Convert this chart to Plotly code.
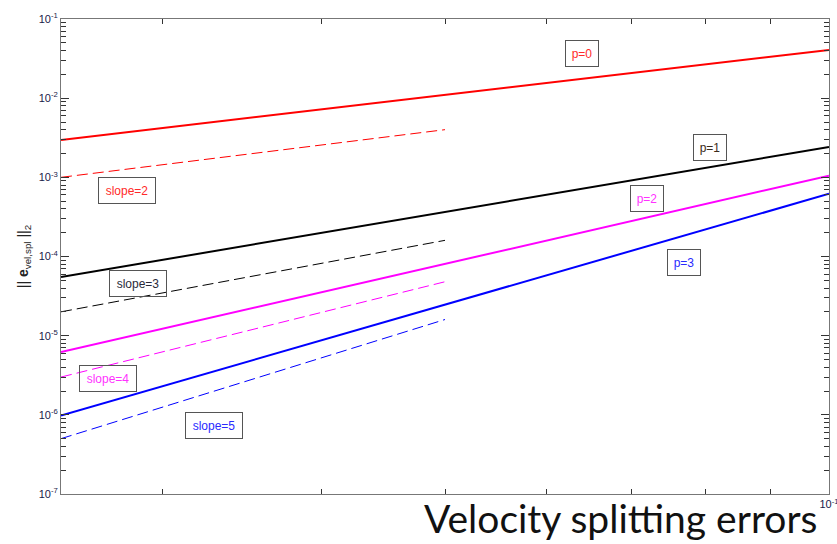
import plotly.graph_objects as go

# mesh size h and velocity splitting error for each polynomial order p
h = [0.025, 0.05, 0.1]
err_p0 = [2.97e-3, 1.10e-2, 4.07e-2]
err_p1 = [5.5e-5, 3.65e-4, 2.42e-3]
err_p2 = [6.2e-6, 8.07e-5, 1.05e-3]
err_p3 = [9.8e-7, 2.47e-5, 6.2e-4]

# reference slopes (dashed)
h_ref = [0.025, 0.05]
ref_s2 = [1.0e-3, 4.0e-3]
ref_s3 = [2.0e-5, 1.6e-4]
ref_s4 = [3.0e-6, 4.8e-5]
ref_s5 = [5.0e-7, 1.6e-5]

# y-axis decades and their labels
y_decades = [1e-7, 1e-6, 1e-5, 1e-4, 1e-3, 1e-2, 1e-1]
y_decade_text = ["10<sup>-7</sup>", "10<sup>-6</sup>", "10<sup>-5</sup>", "10<sup>-4</sup>",
                 "10<sup>-3</sup>", "10<sup>-2</sup>", "10<sup>-1</sup>"]

colors = ["#ff0000", "#000000", "#ff00ff", "#0000ff"]
series = [err_p0, err_p1, err_p2, err_p3]
refs = [ref_s2, ref_s3, ref_s4, ref_s5]

W, H = 837, 544
L, R, T, B = 61, 8, 19, 50
pw, ph = W - L - R, H - T - B

fig = go.Figure()
for c, y in zip(colors, series):
    fig.add_trace(go.Scatter(x=h, y=y, mode="lines",
                             line=dict(color=c, width=2), showlegend=False))
for c, y in zip(colors, refs):
    fig.add_trace(go.Scatter(x=h_ref, y=y, mode="lines",
                             line=dict(color=c, width=1, dash="11px,5px"),
                             showlegend=False))


def px2paper(px, py):
    return (px - L) / pw, (H - B - py) / ph


labels = [
    ("p=0", 582, 53, "#ff2a2a", 24),
    ("p=1", 710, 147, "#3a2a1a", 24),
    ("p=2", 647, 198, "#ff33ff", 24),
    ("p=3", 684, 262, "#2a2aff", 24),
    ("slope=2", 127, 190, "#ff2a2a", 48),
    ("slope=3", 138, 283, "#2a2a3a", 48),
    ("slope=4", 108, 378, "#ff33ff", 48),
    ("slope=5", 214, 425, "#2a2aff", 48),
]
for text, px, py, col, w in labels:
    xp, yp = px2paper(px, py)
    fig.add_annotation(x=xp, y=yp, xref="paper", yref="paper", text=text,
                       xanchor="center", yanchor="middle",
                       showarrow=False, width=w, height=17,
                       font=dict(family="Liberation Sans", size=12, color=col),
                       bgcolor="rgba(255,255,255,0)", bordercolor="#555555",
                       borderwidth=1, borderpad=4)

# slide caption below the axes
fig.add_annotation(x=(819 - L) / pw, y=(H - B - 543) / ph, xref="paper", yref="paper",
                   xanchor="right", yanchor="bottom", text="Velocity splitting errors",
                   showarrow=False, font=dict(family="Lato", size=39, color="#111111"))

yminor = [m * 10 ** e for e in range(-7, -1) for m in range(2, 10)]
fig.update_layout(
    width=W, height=H, margin=dict(l=L, r=R, t=T, b=B, autoexpand=False),
    paper_bgcolor="white", plot_bgcolor="white",
    font=dict(family="Liberation Sans", size=11, color="#1a1a4a"),
    xaxis=dict(type="log", range=[-1.60206, -1], showgrid=False, zeroline=False,
               automargin=False,
               showline=True, linecolor="#777777", linewidth=1, mirror="ticks",
               ticks="inside", ticklen=5, tickcolor="#333333",
               tickvals=[0.1], ticktext=["10<sup>-1</sup>"], ticklabeloverflow="allow",
               tickfont=dict(size=11, color="#1a1a4a"),
               minor=dict(tickvals=[0.03, 0.04, 0.05, 0.06, 0.07, 0.08, 0.09],
                          ticks="inside", ticklen=5, tickcolor="#333333", showgrid=False)),
    yaxis=dict(type="log", range=[-7, -1], showgrid=False, zeroline=False,
               automargin=False,
               showline=True, linecolor="#777777", linewidth=1, mirror="ticks",
               ticks="inside", ticklen=8, tickcolor="#333333",
               tickvals=y_decades, ticktext=y_decade_text, ticklabeloverflow="allow",
               tickfont=dict(size=11, color="#1a1a4a"),
               minor=dict(tickvals=yminor, ticks="inside", ticklen=5,
                          tickcolor="#333333", showgrid=False),
               title=dict(text="|| <b>e</b><sub>vel,spl</sub> ||<sub>2</sub>",
                          font=dict(size=14, color="#222222"), standoff=6)),
)

fig.write_html("out.html")
